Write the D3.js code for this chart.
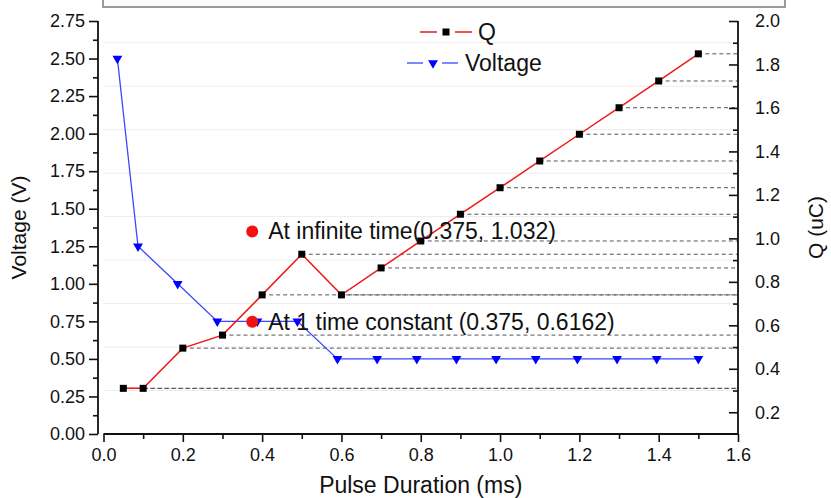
<!DOCTYPE html>
<html>
<head>
<meta charset="utf-8">
<script src="https://cdn.jsdelivr.net/npm/d3@7"></script>
<style>
  html, body { margin: 0; padding: 0; background: #fff; }
</style>
</head>
<body>
<div id="chart"></div>
<script>
// Q (uC) readings, right axis
const qTime = [0.05, 0.1, 0.2, 0.3, 0.4, 0.5, 0.6, 0.7, 0.8, 0.9, 1.0, 1.1, 1.2, 1.3, 1.4, 1.5];
const qValues = [0.31, 0.31, 0.495, 0.555, 0.74, 0.927, 0.74, 0.864, 0.988, 1.111, 1.233, 1.356, 1.479, 1.601, 1.724, 1.849];

// Voltage (V) readings, left axis
const vTime = [0.035, 0.087, 0.187, 0.287, 0.388, 0.489, 0.59, 0.69, 0.79, 0.89, 0.99, 1.09, 1.195, 1.295, 1.395, 1.5];
const vValues = [2.5, 1.25, 1.0, 0.75, 0.75, 0.75, 0.5, 0.5, 0.5, 0.5, 0.5, 0.5, 0.5, 0.5, 0.5, 0.5];

// annotated points (plotted against Q axis)
const notes = [
  { t: 0.375, q: 1.032, label: "At infinite time(0.375, 1.032)" },
  { t: 0.375, q: 0.6162, label: "At 1 time constant (0.375, 0.6162)" }
];

const xTicks = [0, 0.2, 0.4, 0.6, 0.8, 1.0, 1.2, 1.4, 1.6];
const vTicks = [0, 0.25, 0.5, 0.75, 1.0, 1.25, 1.5, 1.75, 2.0, 2.25, 2.5, 2.75];
const qTicks = [0.2, 0.4, 0.6, 0.8, 1.0, 1.2, 1.4, 1.6, 1.8, 2.0];
const qGrid = [0.3, 0.5, 0.7, 0.9, 1.1, 1.3, 1.5, 1.7, 1.9];

const width = 831, height = 498;
const font = "'Liberation Sans', Arial, Helvetica, sans-serif";

const x = d3.scaleLinear([0, 1.6], [103.5, 738]);
const yV = d3.scaleLinear([0, 2.75], [434, 21]);
const yQ = d3.scaleLinear([0.1, 2.0], [434, 21]);

const svg = d3.create("svg")
  .attr("width", width)
  .attr("height", height)
  .attr("viewBox", [0, 0, width, height])
  .attr("font-family", font);

// leftover frame at the top edge
svg.append("rect")
  .attr("x", 103).attr("y", -12)
  .attr("width", 682).attr("height", 19)
  .attr("fill", "#fbfbfb")
  .attr("stroke", "#9a9a9a")
  .attr("stroke-width", 2);

// faint grid
svg.append("g")
  .selectAll("line")
  .data(qGrid)
  .join("line")
  .attr("x1", x(0)).attr("x2", x(1.6))
  .attr("y1", d => yQ(d)).attr("y2", d => yQ(d))
  .attr("stroke", "#ececec")
  .attr("stroke-width", 1);

// dashed guides from Q points to the right axis
svg.append("g")
  .selectAll("line")
  .data(d3.range(qTime.length))
  .join("line")
  .attr("x1", i => x(qTime[i])).attr("x2", x(1.6))
  .attr("y1", i => yQ(qValues[i])).attr("y2", i => yQ(qValues[i]))
  .attr("stroke", "#555")
  .attr("stroke-width", 1)
  .attr("stroke-dasharray", "4,3");

// axes
const axisStyle = g => {
  g.select(".domain").remove();
  g.selectAll(".tick line").attr("stroke", "#111").attr("stroke-width", 1.6);
  g.selectAll(".tick text").attr("fill", "#111").attr("font-size", 18).attr("font-family", font);
};

const minorX = d3.range(0.1, 1.6, 0.2);
svg.append("g")
  .attr("transform", "translate(0,434)")
  .call(d3.axisBottom(x).tickValues(xTicks).tickFormat(d3.format(".1f")).tickSize(8).tickPadding(6))
  .call(axisStyle);
svg.append("g")
  .attr("transform", "translate(0,434)")
  .call(d3.axisBottom(x).tickValues(minorX).tickFormat("").tickSize(5))
  .call(axisStyle);
svg.append("line")
  .attr("x1", x(0)).attr("x2", x(1.6)).attr("y1", 434).attr("y2", 434)
  .attr("stroke", "#111").attr("stroke-width", 1.8);

const leftX = 98;
svg.append("g")
  .attr("transform", `translate(${leftX},0)`)
  .call(d3.axisLeft(yV).tickValues(vTicks).tickFormat(d3.format(".2f")).tickSize(9).tickPadding(4))
  .call(axisStyle);
svg.append("g")
  .attr("transform", `translate(${leftX},0)`)
  .call(d3.axisLeft(yV).tickValues(d3.range(0.125, 2.75, 0.25)).tickFormat("").tickSize(5))
  .call(axisStyle);
svg.append("line")
  .attr("x1", leftX).attr("x2", leftX).attr("y1", yV(2.75)).attr("y2", yV(0))
  .attr("stroke", "#111").attr("stroke-width", 1.8);

// right axis: ticks point inward, labels outside
const rightX = x(1.6);
svg.append("g")
  .attr("transform", `translate(${rightX},0)`)
  .call(d3.axisRight(yQ).tickValues(qTicks).tickFormat(d3.format(".1f")).tickSizeInner(-9).tickSizeOuter(0).tickPadding(17))
  .call(axisStyle);
svg.append("g")
  .attr("transform", `translate(${rightX},0)`)
  .call(d3.axisRight(yQ).tickValues(qGrid).tickFormat("").tickSizeInner(-5).tickSizeOuter(0))
  .call(axisStyle);
svg.append("line")
  .attr("x1", rightX).attr("x2", rightX).attr("y1", yQ(2.0)).attr("y2", yQ(0.1))
  .attr("stroke", "#111").attr("stroke-width", 1.8);

// axis titles
svg.append("text")
  .attr("x", (x(0) + x(1.6)) / 2).attr("y", 493)
  .attr("text-anchor", "middle")
  .attr("font-size", 23)
  .attr("fill", "#111")
  .text("Pulse Duration (ms)");

svg.append("text")
  .attr("transform", `translate(26,${(yV(0) + yV(2.75)) / 2}) rotate(-90)`)
  .attr("text-anchor", "middle")
  .attr("font-size", 21)
  .attr("fill", "#111")
  .text("Voltage (V)");

svg.append("text")
  .attr("transform", `translate(823,${(yQ(0.1) + yQ(2.0)) / 2}) rotate(-90)`)
  .attr("text-anchor", "middle")
  .attr("font-size", 21)
  .attr("fill", "#111")
  .text("Q (uC)");

// voltage series
svg.append("path")
  .datum(d3.range(vTime.length))
  .attr("fill", "none")
  .attr("stroke", "#3a46ff")
  .attr("stroke-width", 1.3)
  .attr("d", d3.line().x(i => x(vTime[i])).y(i => yV(vValues[i])));

const tri = d3.symbol().type(d3.symbolTriangle).size(42);
svg.append("g")
  .selectAll("path")
  .data(d3.range(vTime.length))
  .join("path")
  .attr("transform", i => `translate(${x(vTime[i])},${yV(vValues[i])}) rotate(180)`)
  .attr("d", tri)
  .attr("fill", "#0000ff");

// Q series
svg.append("path")
  .datum(d3.range(qTime.length))
  .attr("fill", "none")
  .attr("stroke", "#f01818")
  .attr("stroke-width", 1.5)
  .attr("d", d3.line().x(i => x(qTime[i])).y(i => yQ(qValues[i])));

svg.append("g")
  .selectAll("rect")
  .data(d3.range(qTime.length))
  .join("rect")
  .attr("x", i => x(qTime[i]) - 3.5)
  .attr("y", i => yQ(qValues[i]) - 3.5)
  .attr("width", 7).attr("height", 7)
  .attr("fill", "#000");

// annotations
const note = svg.append("g")
  .selectAll("g")
  .data(notes)
  .join("g")
  .attr("transform", d => `translate(${x(d.t)},${yQ(d.q)})`);
note.append("circle").attr("r", 6).attr("fill", "#f21212");
note.append("text")
  .attr("x", 16).attr("dy", "0.35em")
  .attr("font-size", 23)
  .attr("fill", "#111")
  .text(d => d.label);

// legend
const legend = svg.append("g");
const qRow = legend.append("g").attr("transform", "translate(0,32)");
qRow.append("line").attr("x1", 420).attr("x2", 437).attr("stroke", "#f01818").attr("stroke-width", 1.5);
qRow.append("line").attr("x1", 455).attr("x2", 472).attr("stroke", "#f01818").attr("stroke-width", 1.5);
qRow.append("rect").attr("x", 442.5).attr("y", -3.5).attr("width", 7).attr("height", 7).attr("fill", "#000");
qRow.append("text").attr("x", 478).attr("dy", "0.35em").attr("font-size", 23).attr("fill", "#111").text("Q");

const vRow = legend.append("g").attr("transform", "translate(0,63)");
vRow.append("line").attr("x1", 407).attr("x2", 423).attr("stroke", "#3a46ff").attr("stroke-width", 1.3);
vRow.append("line").attr("x1", 442).attr("x2", 458).attr("stroke", "#3a46ff").attr("stroke-width", 1.3);
vRow.append("path").attr("transform", "translate(433,0) rotate(180)").attr("d", tri).attr("fill", "#0000ff");
vRow.append("text").attr("x", 465).attr("dy", "0.35em").attr("font-size", 23).attr("fill", "#111").text("Voltage");

document.getElementById("chart").appendChild(svg.node());
</script>
</body>
</html>
